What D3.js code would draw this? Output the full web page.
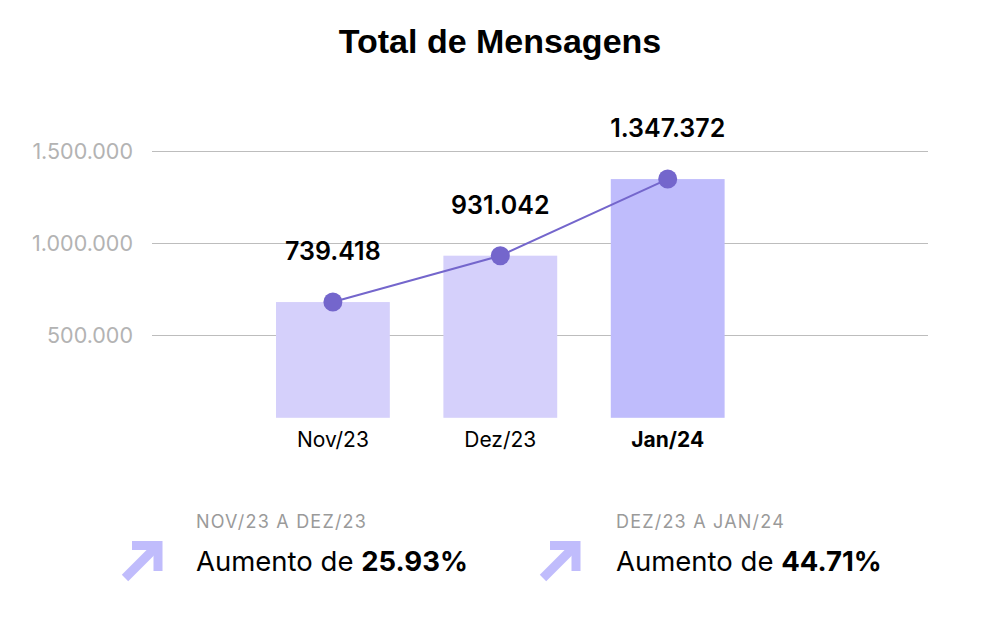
<!DOCTYPE html>
<html>
<head>
<meta charset="utf-8">
<script src="https://cdn.jsdelivr.net/npm/d3@7"></script>
<style>
  body { margin: 0; background: #fff; }
  svg text { font-family: Inter, "Liberation Sans", Arial, sans-serif; }
</style>
</head>
<body>
<svg id="chart" width="1000" height="643"></svg>
<script>
// data
const months = ['Nov/23', 'Dez/23', 'Jan/24'];
const totals = [739418, 931042, 1347372];          // label values
const plotted = [679000, 931042, 1347372];         // bar/dot heights as drawn
const yTicks = [500000, 1000000, 1500000];
const changeLabels = ['NOV/23 A DEZ/23', 'DEZ/23 A JAN/24'];
const changePct = [25.93, 44.71];

const svg = d3.select('#chart');
const fmt = d3.formatLocale({decimal: ',', thousands: '.', grouping: [3], currency: ['R$', '']}).format(',d');

svg.append('text')
  .attr('x', 500).attr('y', 53)
  .attr('text-anchor', 'middle')
  .style('font-family', '"Liberation Sans", Arial, sans-serif')
  .style('font-weight', 700).style('font-size', '34px')
  .attr('fill', '#000')
  .text('Total de Mensagens');

const x = d3.scaleBand()
  .domain(months)
  .range([249.2, 751.4])
  .paddingInner(0.32)
  .paddingOuter(0.16);

const y = d3.scaleLinear()
  .domain([0, 1500000])
  .range([427, 151]);

const baseline = 50000;

// grid
const grid = svg.append('g');
grid.selectAll('line').data(yTicks).join('line')
  .attr('x1', 152).attr('x2', 928)
  .attr('y1', d => Math.round(y(d)) + 0.5).attr('y2', d => Math.round(y(d)) + 0.5)
  .attr('stroke', '#bdbdbd').attr('stroke-width', 1);

grid.selectAll('text').data(yTicks).join('text')
  .attr('x', 133).attr('y', d => y(d))
  .attr('text-anchor', 'end').attr('dominant-baseline', 'central')
  .style('font-size', '21.5px')
  .attr('fill', '#b3b3b3')
  .text(d => fmt(d));

// bars
svg.append('g').selectAll('rect').data(months).join('rect')
  .attr('x', d => x(d))
  .attr('width', x.bandwidth())
  .attr('y', (d, i) => y(plotted[i]))
  .attr('height', (d, i) => y(baseline) - y(plotted[i]))
  .attr('fill', (d, i) => i === months.length - 1 ? '#bfbcfc' : '#d5d0fb');

// line + dots
const line = d3.line()
  .x((d, i) => x(months[i]) + x.bandwidth() / 2)
  .y(d => y(d));

svg.append('path')
  .datum(plotted)
  .attr('d', line)
  .attr('fill', 'none')
  .attr('stroke', '#7466cc')
  .attr('stroke-width', 2);

svg.append('g').selectAll('circle').data(plotted).join('circle')
  .attr('cx', (d, i) => x(months[i]) + x.bandwidth() / 2)
  .attr('cy', d => y(d))
  .attr('r', 9.5)
  .attr('fill', '#7466cc');

// value labels
svg.append('g').selectAll('text').data(totals).join('text')
  .attr('x', (d, i) => x(months[i]) + x.bandwidth() / 2)
  .attr('y', (d, i) => y(plotted[i]) - 51)
  .attr('text-anchor', 'middle').attr('dominant-baseline', 'central')
  .style('font-size', '25px').style('font-weight', 600)
  .attr('fill', '#000')
  .text(d => fmt(d));

// x labels
svg.append('g').selectAll('text').data(months).join('text')
  .attr('x', d => x(d) + x.bandwidth() / 2)
  .attr('y', 447)
  .attr('text-anchor', 'middle')
  .style('font-size', '21px')
  .style('font-weight', (d, i) => i === months.length - 1 ? 700 : 400)
  .attr('fill', '#000')
  .text(d => d);

// change summaries
const blocks = svg.append('g').selectAll('g').data(changeLabels).join('g')
  .attr('transform', (d, i) => `translate(${i === 0 ? 196 : 616}, 0)`);

blocks.append('text')
  .attr('y', 528)
  .style('font-size', '18px')
  .style('letter-spacing', '1.2px')
  .attr('fill', '#9a9a9a')
  .text(d => d);

const big = blocks.append('text')
  .attr('y', 571)
  .style('font-size', '27.5px')
  .attr('fill', '#000');
big.append('tspan').text('Aumento de ');
big.append('tspan').style('font-weight', 700).text((d, i) => changePct[i].toFixed(2) + '%');

// arrows
const arrows = blocks.append('g')
  .attr('transform', (d, i) => `translate(${i === 0 ? -76 : -78}, 540)`)
  .attr('fill', 'none').attr('stroke', '#c0bcfc').attr('stroke-width', 9);
arrows.append('path').attr('d', 'M5,38 L36,7');
arrows.append('path').attr('d', 'M12,5.5 L38,5.5 L38,31').attr('stroke-linejoin', 'miter');
</script>
</body>
</html>
